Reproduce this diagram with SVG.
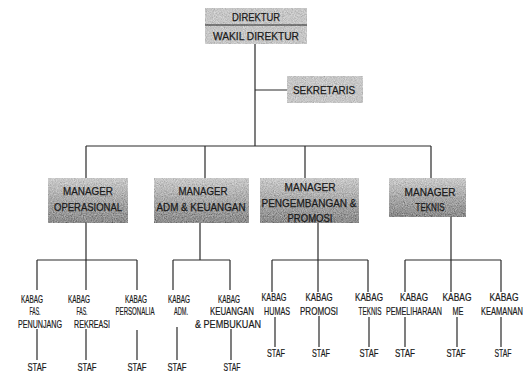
<svg xmlns="http://www.w3.org/2000/svg" width="524" height="378" viewBox="0 0 524 378">
<defs>
<filter id="grain" x="0" y="0" width="100%" height="100%">
<feTurbulence type="fractalNoise" baseFrequency="0.9" numOctaves="2" seed="4" result="n"/>
<feColorMatrix in="n" type="matrix" values="0.5 0.5 0 0 0  0.5 0.5 0 0 0  0.5 0.5 0 0 0  0 0 0 0 1" result="g"/>
<feComposite in="SourceGraphic" in2="g" operator="arithmetic" k1="0" k2="1" k3="0.7" k4="-0.35" result="c"/>
<feComposite in="c" in2="SourceGraphic" operator="in"/>
</filter>
<linearGradient id="mgr" x1="0" y1="0" x2="0" y2="1">
<stop offset="0" stop-color="#c9c9c9"/>
<stop offset="0.5" stop-color="#a8a8a8"/>
<stop offset="1" stop-color="#8a8a8a"/>
</linearGradient>
</defs>
<style>
.box{fill:#c6c6c6;filter:url(#grain)}
.mbox{fill:url(#mgr);filter:url(#grain)}
.t{font-family:"Liberation Sans",Arial,sans-serif;font-size:11px;fill:#1a1a1a;stroke:#1a1a1a;stroke-width:0.25;text-anchor:middle}
.k{font-family:"Liberation Sans",Arial,sans-serif;font-size:10.5px;fill:#1a1a1a;stroke:#1a1a1a;stroke-width:0.2;text-anchor:middle}
.c{stroke:#2a2a2a;stroke-width:1.2;fill:none}
</style>
<rect width="524" height="378" fill="#ffffff"/>
<g id="connectors" class="c">
<path d="M255 44V146M255 90H287M86 146H431M86 146V178M205 146V178M305 146V178M431 146V178"/>
<path d="M86 223V260M37 260H137M37 260V290M86 260V290M137 260V290"/>
<path d="M200 223V260M173 260H230M173 260V290M230 260V290"/>
<path d="M318 223V260M272 260H368M272 260V292M318 260V292M368 260V292"/>
<path d="M451 217V260M405 260H501M405 260V292M451 260V292M501 260V292"/>
<path d="M37 329V360M86 329V360M137 330V360M177 327V360M231 329V360"/>
<path d="M275 317V347M319 316V347M369 317V347M405 317V347M457 317V347M501 317V347"/>
</g>
<g id="direktur">
<rect class="box" x="205" y="8" width="102" height="17"/>
<text class="t" x="256" y="21" textLength="48" lengthAdjust="spacingAndGlyphs">DIREKTUR</text>
</g>
<g id="wakil-direktur">
<rect class="box" x="205" y="25" width="102" height="19"/>
<line x1="205" y1="25" x2="307" y2="25" stroke="#2a2a2a" stroke-width="1.2"/>
<text class="t" x="256" y="40" textLength="86" lengthAdjust="spacingAndGlyphs">WAKIL DIREKTUR</text>
</g>
<g id="sekretaris">
<rect class="box" x="287" y="76" width="76" height="27"/>
<text class="t" x="324" y="94" textLength="62" lengthAdjust="spacingAndGlyphs">SEKRETARIS</text>
</g>
<g id="manager-operasional">
<rect class="mbox" x="48" y="178" width="80" height="45"/>
<text class="t" x="88" y="195" textLength="50" lengthAdjust="spacingAndGlyphs">MANAGER</text>
<text class="t" x="88" y="211" textLength="68" lengthAdjust="spacingAndGlyphs">OPERASIONAL</text>
</g>
<g id="manager-adm">
<rect class="mbox" x="154" y="178" width="95" height="45"/>
<text class="t" x="203" y="195" textLength="49" lengthAdjust="spacingAndGlyphs">MANAGER</text>
<text class="t" x="201" y="211" textLength="89" lengthAdjust="spacingAndGlyphs">ADM &amp; KEUANGAN</text>
</g>
<g id="manager-pengembangan">
<rect class="mbox" x="260" y="178" width="99" height="45"/>
<text class="t" x="310" y="191" textLength="51" lengthAdjust="spacingAndGlyphs">MANAGER</text>
<text class="t" x="309" y="207" textLength="95" lengthAdjust="spacingAndGlyphs">PENGEMBANGAN &amp;</text>
<text class="t" x="310" y="222" textLength="45" lengthAdjust="spacingAndGlyphs">PROMOSI</text>
</g>
<g id="manager-teknis">
<rect class="mbox" x="389" y="178" width="77" height="39"/>
<text class="t" x="430" y="196" textLength="51" lengthAdjust="spacingAndGlyphs">MANAGER</text>
<text class="t" x="430" y="211" textLength="29" lengthAdjust="spacingAndGlyphs">TEKNIS</text>
</g>
<g id="kabag-fas-penunjang">
<text class="k" x="32" y="303" textLength="22" lengthAdjust="spacingAndGlyphs">KABAG</text>
<text class="k" x="35" y="315" textLength="11" lengthAdjust="spacingAndGlyphs">FAS.</text>
<text class="k" x="40" y="328" textLength="44" lengthAdjust="spacingAndGlyphs">PENUNJANG</text>
</g>
<g id="kabag-fas-rekreasi">
<text class="k" x="79" y="303" textLength="22" lengthAdjust="spacingAndGlyphs">KABAG</text>
<text class="k" x="82" y="315" textLength="11" lengthAdjust="spacingAndGlyphs">FAS.</text>
<text class="k" x="92" y="328" textLength="36" lengthAdjust="spacingAndGlyphs">REKREASI</text>
</g>
<g id="kabag-personalia">
<text class="k" x="136" y="303" textLength="22" lengthAdjust="spacingAndGlyphs">KABAG</text>
<text class="k" x="135" y="315" textLength="39" lengthAdjust="spacingAndGlyphs">PERSONALIA</text>
</g>
<g id="kabag-adm">
<text class="k" x="179" y="303" textLength="22" lengthAdjust="spacingAndGlyphs">KABAG</text>
<text class="k" x="181" y="315" textLength="14" lengthAdjust="spacingAndGlyphs">ADM.</text>
</g>
<g id="kabag-keuangan">
<text class="k" x="229" y="303" textLength="22" lengthAdjust="spacingAndGlyphs">KABAG</text>
<text class="k" x="232" y="315" textLength="44" lengthAdjust="spacingAndGlyphs">KEUANGAN</text>
<text class="k" x="228" y="328" textLength="66" lengthAdjust="spacingAndGlyphs">&amp; PEMBUKUAN</text>
</g>
<g id="kabag-humas">
<text class="k" x="274" y="301" textLength="25" lengthAdjust="spacingAndGlyphs">KABAG</text>
<text class="k" x="277" y="315" textLength="26" lengthAdjust="spacingAndGlyphs">HUMAS</text>
</g>
<g id="kabag-promosi">
<text class="k" x="319" y="301" textLength="27" lengthAdjust="spacingAndGlyphs">KABAG</text>
<text class="k" x="319" y="315" textLength="38" lengthAdjust="spacingAndGlyphs">PROMOSI</text>
</g>
<g id="kabag-teknis">
<text class="k" x="369" y="301" textLength="28" lengthAdjust="spacingAndGlyphs">KABAG</text>
<text class="k" x="370" y="315" textLength="23" lengthAdjust="spacingAndGlyphs">TEKNIS</text>
</g>
<g id="kabag-pemeliharaan">
<text class="k" x="414" y="301" textLength="28" lengthAdjust="spacingAndGlyphs">KABAG</text>
<text class="k" x="414" y="315" textLength="56" lengthAdjust="spacingAndGlyphs">PEMELIHARAAN</text>
</g>
<g id="kabag-me">
<text class="k" x="457" y="301" textLength="29" lengthAdjust="spacingAndGlyphs">KABAG</text>
<text class="k" x="458" y="315" textLength="11" lengthAdjust="spacingAndGlyphs">ME</text>
</g>
<g id="kabag-keamanan">
<text class="k" x="504" y="301" textLength="29" lengthAdjust="spacingAndGlyphs">KABAG</text>
<text class="k" x="502" y="315" textLength="42" lengthAdjust="spacingAndGlyphs">KEAMANAN</text>
</g>
<g id="staf">
<text class="k" x="37" y="371" textLength="19" lengthAdjust="spacingAndGlyphs">STAF</text>
<text class="k" x="87" y="371" textLength="19" lengthAdjust="spacingAndGlyphs">STAF</text>
<text class="k" x="137" y="371" textLength="19" lengthAdjust="spacingAndGlyphs">STAF</text>
<text class="k" x="177" y="371" textLength="19" lengthAdjust="spacingAndGlyphs">STAF</text>
<text class="k" x="232" y="371" textLength="17" lengthAdjust="spacingAndGlyphs">STAF</text>
<text class="k" x="276" y="357" textLength="18" lengthAdjust="spacingAndGlyphs">STAF</text>
<text class="k" x="321" y="357" textLength="18" lengthAdjust="spacingAndGlyphs">STAF</text>
<text class="k" x="369" y="357" textLength="19" lengthAdjust="spacingAndGlyphs">STAF</text>
<text class="k" x="405" y="357" textLength="20" lengthAdjust="spacingAndGlyphs">STAF</text>
<text class="k" x="456" y="357" textLength="19" lengthAdjust="spacingAndGlyphs">STAF</text>
<text class="k" x="503" y="357" textLength="17" lengthAdjust="spacingAndGlyphs">STAF</text>
</g>
</svg>
